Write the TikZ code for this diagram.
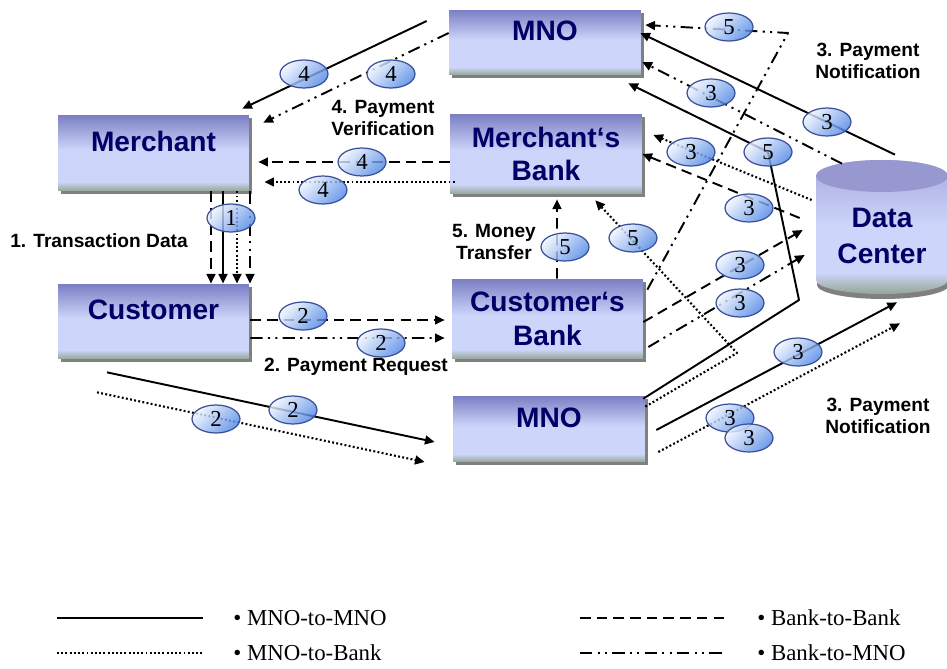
\documentclass[tikz,border=0pt]{standalone}
\usepackage{fontspec}
\setmainfont{Liberation Serif}
\newfontfamily\arialf{Liberation Sans}
\usetikzlibrary{arrows.meta, shapes.geometric, shadows, calc}

\definecolor{boxtop}{RGB}{124,126,196}
\definecolor{boxlight}{RGB}{205,214,250}
\definecolor{boxbot}{RGB}{148,166,148}
\definecolor{cyltop}{RGB}{168,168,220}
\definecolor{cylcap}{RGB}{152,152,208}
\definecolor{navy}{RGB}{0,0,102}
\definecolor{shadowgray}{RGB}{128,128,128}
\definecolor{ovallight}{RGB}{240,245,255}
\definecolor{ovalblue}{RGB}{80,135,230}
\definecolor{ovalline}{RGB}{60,80,150}

\pgfdeclareverticalshading{boxshade}{100bp}{color(0bp)=(boxbot); color(25bp)=(boxbot);
  color(31bp)=(boxlight); color(52bp)=(boxlight); color(75bp)=(boxtop); color(100bp)=(boxtop)}
\pgfdeclareverticalshading{cylshade}{100bp}{color(0bp)=(boxbot); color(25bp)=(boxbot);
  color(33bp)=(boxlight); color(50bp)=(boxlight); color(75bp)=(cyltop); color(100bp)=(cyltop)}

\tikzset{
  box/.style={shading=boxshade, minimum width=3.84cm, inner sep=0pt, align=center,
    drop shadow={shadow xshift=0.06cm, shadow yshift=-0.06cm, fill=shadowgray, opacity=1},
    font=\arialf\bfseries\fontsize{16}{19}\selectfont, text=navy},
  boxup/.style={text height=12pt, text depth=14pt},
  lab/.style={font=\arialf\bfseries\fontsize{10.9}{12.2}\selectfont, align=center, inner sep=0pt},
  num/.style={ellipse, draw=ovalline, line width=0.7pt, minimum width=0.96cm, minimum height=0.56cm,
    inner sep=0pt, top color=ovallight, bottom color=ovalblue, shading angle=45,
    fill opacity=0.82, text opacity=1, font=\fontsize{13}{14}\selectfont},
  mm/.style={line width=1.1pt},
  mb/.style={line width=1.2pt, dash pattern=on 1.1pt off 1.3pt},
  bb/.style={line width=1.1pt, dash pattern=on 6pt off 3.5pt},
  bm/.style={line width=1.1pt, dash pattern=on 7pt off 3pt on 1.2pt off 3pt on 1.2pt off 3pt},
  legline/.style={line width=1.6pt},
  legtext/.style={anchor=west, inner sep=0pt, font=\fontsize{13}{15}\selectfont}
}

\begin{document}
\begin{tikzpicture}[x=0.02cm, y=-0.02cm, >={Triangle[length=5.5pt, width=5pt]}, line join=round]
  \path[use as bounding box, fill=white] (0,0) rectangle (947,669);
  % las cajas
  \node[box, boxup, minimum height=1.3cm] (mnot) at (545,42.5) {MNO};
  \node[box, boxup, minimum height=1.52cm, minimum width=3.82cm] (merchant) at (153.5,153) {Merchant};
  \node[box, minimum height=1.6cm] (mbank) at (546,154) {Merchant‘s\\Bank};
  \node[box, boxup, minimum height=1.5cm, minimum width=3.82cm] (customer) at (153.5,321.5) {Customer};
  \node[box, minimum height=1.6cm, minimum width=3.82cm] (cbank) at (547.5,319) {Customer‘s\\Bank};
  \node[box, boxup, minimum height=1.32cm] (mnob) at (549,429) {MNO};
  % el centro de datos
  \fill[shadowgray] (817,181) -- (817,285) arc[start angle=180, end angle=360, x radius=1.32cm, y radius=0.28cm] -- (949,181) -- cycle;
  \shade[shading=cylshade] (816,176) -- (816,280) arc[start angle=180, end angle=360, x radius=1.32cm, y radius=0.28cm]
    -- (948,176) arc[start angle=0, end angle=180, x radius=1.32cm, y radius=0.32cm] -- cycle;
  \fill[cylcap] (882,176) ellipse [x radius=1.32cm, y radius=0.32cm];
  \node[align=center, inner sep=0pt, minimum width=2.64cm, minimum height=3.04cm, text=navy,
    font=\arialf\bfseries\fontsize{16}{21}\selectfont] (dc) at (882,236) {Data\\Center};
  % 1: datos de la transaccion
  \foreach \dx/\st in {57.5/bb, 69.5/mm, 83.5/mb, 96.5/bm}
    \draw[\st, ->] ($(merchant.south)+(\dx,0)$) -- ($(customer.north)+(\dx,0)$);
  % 2: solicitud de pago
  \draw[bb, ->] ($(customer.east)+(1,-1.5)$) -- ($(cbank.west)+(-7,1)$);
  \draw[bm, ->] ($(customer.east)+(1,16.5)$) -- ($(cbank.west)+(-7,19)$);
  \draw[mm, ->] ($(customer.south)+(-46.5,13)$) -- ($(mnob.west)+(-18,13)$);
  \draw[mb, ->] ($(customer.south)+(-56.5,33)$) -- ($(mnob.west)+(-28,33)$);
  % 4: verificacion del pago
  \draw[mm, ->] ($(mnot.west)+(-22,-21.5)$) -- ($(merchant.north east)+(-7,-6)$);
  \draw[bm, ->] ($(mnot.west)+(0,-9.5)$) -- ($(merchant.north east)+(14,8)$);
  \draw[bb, ->] ($(mbank.west)+(0,8)$) -- ($(merchant.east)+(9,9)$);
  \draw[mb, ->] ($(mbank.west)+(5,28)$) -- ($(merchant.east)+(15,29)$);
  % 5: transferencia
  \draw[bb, ->] ($(cbank.north)+(9.5,0)$) -- ($(mbank.south)+(11,5)$);
  \coordinate (g1) at (737,353);
  \draw[mb, ->] ($(mnob.north east)+(0,11)$) -- (g1) -- ($(mbank.south east)+(-47,6)$);
  \coordinate (h1) at (799,300);
  \coordinate (h2) at (768,152);
  \draw[mm, ->] ($(mnob.north east)+(-2,3)$) -- (h1) -- (h2) -- ($(mnot.south east)+(-13,8)$);
  \coordinate (i1) at (788,33);
  \draw[bm, ->] ($(cbank.north east)+(4,11)$) -- (i1) -- ($(mnot.east)+(4,-17.5)$);
  % 3: notificacion del pago
  \draw[bb, ->] ($(cbank.east)+(0,3)$) -- ($(dc.west)+(-13,-6)$);
  \draw[bm, ->] ($(cbank.east)+(5,28)$) -- ($(dc.west)+(-11,19)$);
  \draw[mb, ->] ($(dc.west)+(-4,-36)$) -- ($(mbank.east)+(11,-19)$);
  \draw[bb, ->] ($(dc.west)+(-16,-18)$) -- (mbank.east);
  \draw[mm, ->] ($(dc.north)+(13,-5)$) -- ($(mnot.east)+(-1,-9.5)$);
  \draw[bm, ->] ($(dc.north)+(-40,4)$) -- ($(mnot.east)+(1,19.5)$);
  \draw[mm, ->] ($(mnob.east)+(11,1)$) -- ($(dc.south)+(15,-10)$);
  \draw[mb, ->] ($(mnob.east)+(13,23)$) -- ($(dc.south)+(18,11)$);
  % los textos
  \node[lab] (ltd) at (99,241) {1. Transaction Data};
  \node[lab] (lpr) at (356,367) {2. Payment Request};
  \node[lab] (lpv) at (383,118) {4. Payment\\Verification};
  \node[lab] (lmt) at (494,242) {5. Money\\Transfer};
  \node[lab] (lpn1) at (868,61) {3. Payment\\Notification};
  \node[lab] (lpn2) at (878,416) {3. Payment\\Notification};
  % los numeros
  \node[num] (n1) at (231,218) {1};
  \node[num] (n2a) at (303,316) {2}; \node[num] (n2b) at (381,343) {2};
  \node[num] (n2c) at (293,410) {2}; \node[num] (n2d) at (216,419) {2};
  \node[num] (n4a) at (304,74) {4}; \node[num] (n4b) at (391,74) {4};
  \node[num] (n4c) at (362,162) {4}; \node[num] (n4d) at (323,190) {4};
  \node[num] (n5a) at (565,247) {5}; \node[num] (n5b) at (633,238) {5};
  \node[num] (n5c) at (768,152) {5}; \node[num] (n5d) at (729,27) {5};
  \node[num] (n3a) at (711,93) {3}; \node[num] (n3b) at (827,122) {3};
  \node[num] (n3c) at (691,152) {3}; \node[num] (n3d) at (749,208) {3};
  \node[num] (n3e) at (740,265) {3}; \node[num] (n3f) at (740,303) {3};
  \node[num] (n3g) at (798,352) {3}; \node[num] (n3h) at (730,418) {3};
  \node[num] (n3i) at (749,438) {3};
  % la leyenda
  \node[legtext] (lmm) at (233,618) {• MNO-to-MNO};
  \node[legtext] (lmb) at (233,653) {• MNO-to-Bank};
  \node[legtext] (lbb) at (757,618) {• Bank-to-Bank};
  \node[legtext] (lbm) at (757,653) {• Bank-to-MNO};
  \draw[mm, legline] ($(lmm.west)+(-176,0)$) -- ($(lmm.west)+(-30,0)$);
  \draw[mb, legline] ($(lmb.west)+(-176,0)$) -- ($(lmb.west)+(-30,0)$);
  \draw[bb, legline] ($(lbb.west)+(-177,0)$) -- ($(lbb.west)+(-32,0)$);
  \draw[bm, legline] ($(lbm.west)+(-177,0)$) -- ($(lbm.west)+(-32,0)$);
\end{tikzpicture}
\end{document}
